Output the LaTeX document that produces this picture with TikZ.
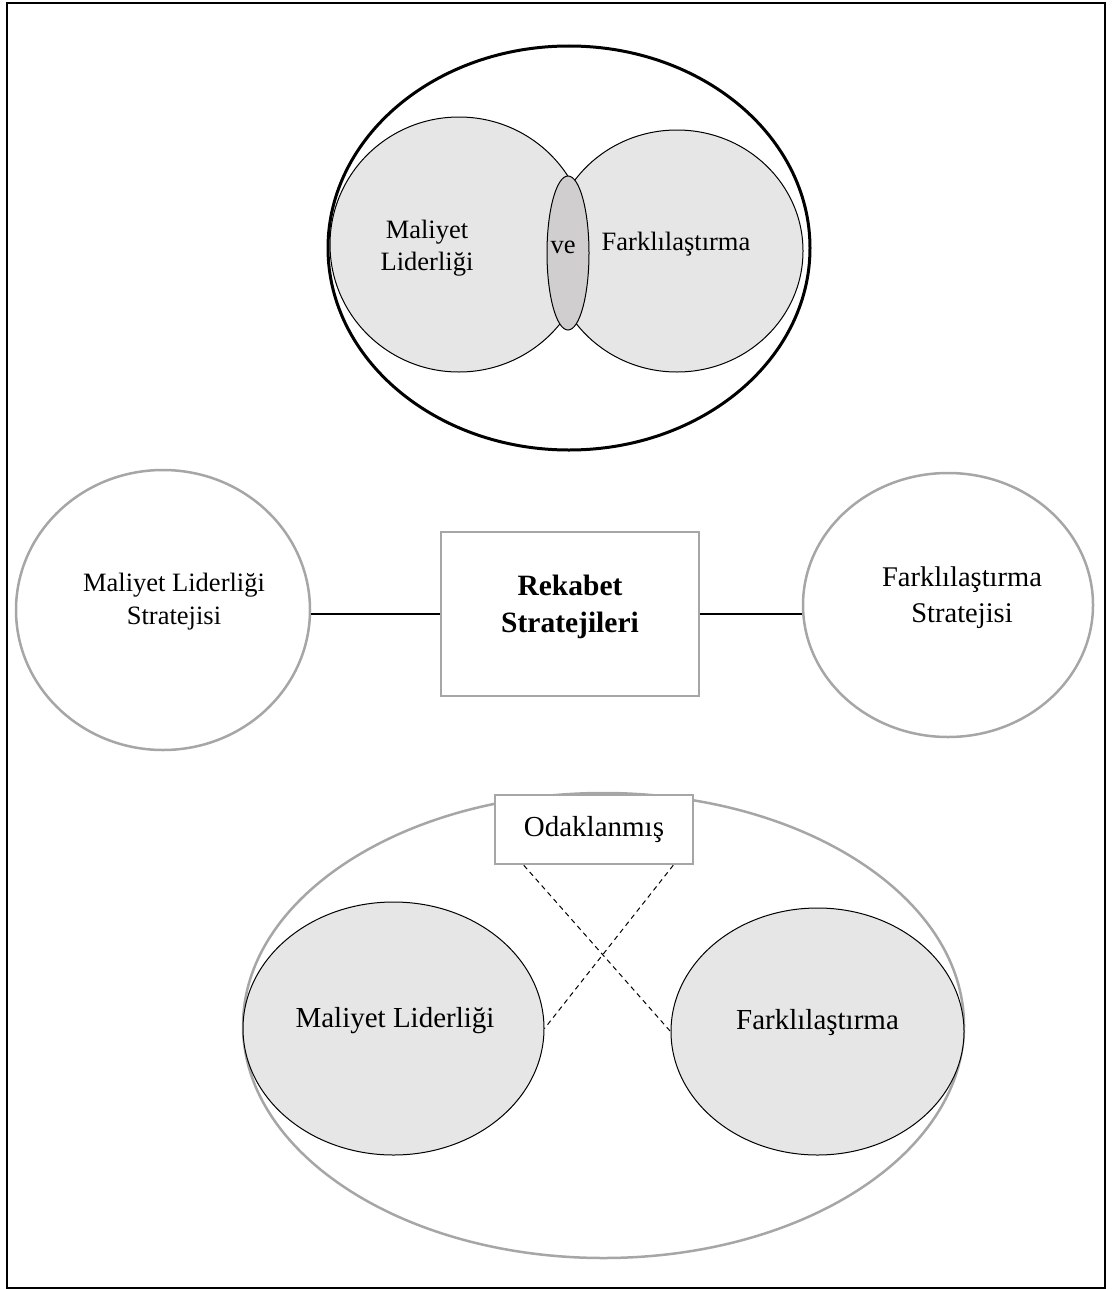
\documentclass[tikz,border=0pt]{standalone}
\usepackage{fontspec}
\setmainfont{Liberation Serif}
\usetikzlibrary{shapes.geometric}
\definecolor{venn}{HTML}{E6E6E6}
\definecolor{vecol}{HTML}{D0CECE}
\definecolor{rim}{HTML}{A6A6A6}

\begin{document}
\begin{tikzpicture}[x=1pt, y=-1pt,
    set/.style={ellipse, draw, fill=venn, line width=1pt, inner sep=0pt},
    strat/.style={ellipse, draw=rim, line width=2.5pt, inner sep=0pt},
    frame/.style={rectangle, draw=rim, fill=white, line width=2.5pt, inner sep=0pt},
    txt/.style={align=center, inner sep=0pt},
    mid/.style={font=\fontsize{26.5}{32}\selectfont},
    big/.style={font=\fontsize{29}{35}\selectfont}]
    \useasboundingbox (0,0) rectangle (1113,1290);
    \draw[line width=2pt] (7,3) rectangle (1105,1288);

    % Top: both strategies together
    \node[set, minimum width=258pt, minimum height=255pt] (cl) at (459,244.5) {};
    \node[set, minimum width=252pt, minimum height=242pt] (df) at (677,251) {};
    \node[set, fill=vecol, minimum width=42pt, minimum height=154pt] (ve) at (568,253) {};
    \node[ellipse, draw, line width=3pt, minimum width=482pt, minimum height=404pt] (both) at (569,248) {};
    \node[txt, mid] (cl-t) at (427,248) {Maliyet\\Liderliği};
    \node[txt, mid] (ve-t) at (563,247) {ve};
    \node[txt, mid] (df-t) at (676,244) {Farklılaştırma};

    % Middle: generic strategies
    \node[strat, minimum width=294pt, minimum height=280pt] (cls) at (163,610) {};
    \node[strat, minimum width=290pt, minimum height=264pt] (dfs) at (948,605) {};
    \node[frame, minimum width=258pt, minimum height=164pt] (rek) at (570,614) {};
    \node[txt, mid, font=\fontsize{26.5}{33}\selectfont] (cls-t) at (174,602) {Maliyet Liderliği\\Stratejisi};
    \node[txt, font=\fontsize{28.5}{36}\selectfont] (dfs-t) at (962,598) {Farklılaştırma\\Stratejisi};
    \node[txt, font=\fontsize{29.5}{37}\selectfont\bfseries] (rek-t) at (570,606.5) {Rekabet\\Stratejileri};

    \draw[line width=1.5pt] (rek.west) -- (rek.west -| cls.east);
    \draw[line width=1.5pt] (rek.east) -- (rek.east -| dfs.west);

    % Bottom: focus
    \node[strat, minimum width=721pt, minimum height=465pt] (focus) at (603.5,1025.5) {};
    \node[set, minimum width=301pt, minimum height=253pt] (clf) at (393.5,1028.5) {};
    \node[set, minimum width=293pt, minimum height=247pt] (dff) at (817.5,1031.5) {};
    \node[frame, big, minimum width=198pt, minimum height=69pt] (odak) at (594,829.5) {Odaklanmış};
    \node[txt, big] (clf-t) at (395,1021) {Maliyet Liderliği};
    \node[txt, big] (dff-t) at (817.5,1023) {Farklılaştırma};

    \draw[dash pattern=on 5pt off 4pt, line width=1pt] ([xshift=30pt]odak.south west) -- (dff.west);
    \draw[dash pattern=on 5pt off 4pt, line width=1pt] ([xshift=-21pt]odak.south east) -- (clf.east);
\end{tikzpicture}
\end{document}
